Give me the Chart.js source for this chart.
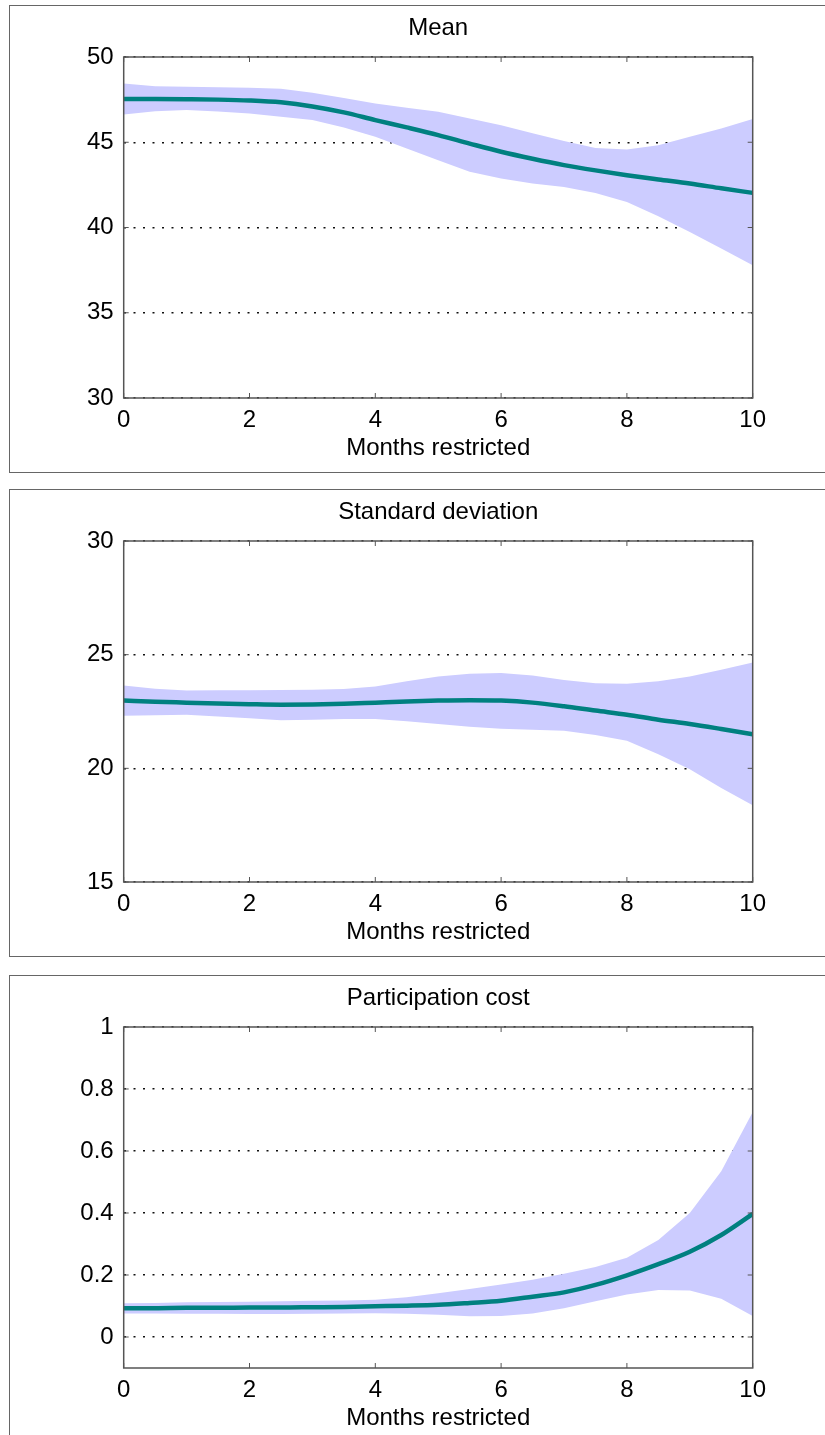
<!DOCTYPE html>
<html>
<head>
<meta charset="utf-8">
<script src="https://cdn.jsdelivr.net/npm/chart.js@4/dist/chart.umd.min.js"></script>
<style>
    body { margin: 0; background: #fff; width: 825px; height: 1435px; overflow: hidden; position: relative; }
    .panel { position: absolute; left: 0; width: 825px; height: 468px; }
    .box { position: absolute; left: 9px; top: 0; width: 840px; height: 466px; border: 1.5px solid #666; }
    .panel canvas { position: absolute; left: 0; top: 0; }
</style>
</head>
<body>
<div class="panel" style="top:5px"><div class="box"></div><canvas id="meanChart" width="825" height="468"></canvas></div>
<div class="panel" style="top:489px"><div class="box"></div><canvas id="sdChart" width="825" height="468"></canvas></div>
<div class="panel" style="top:975px"><div class="box"></div><canvas id="costChart" width="825" height="468"></canvas></div>

<script>
const months = [0, 0.5, 1, 1.5, 2, 2.5, 3, 3.5, 4, 4.5, 5, 5.5, 6, 6.5, 7, 7.5, 8, 8.5, 9, 9.5, 10];
const xTicks = [0, 2, 4, 6, 8, 10];

const meanLine  = [47.53, 47.53, 47.52, 47.5, 47.45, 47.34, 47.1, 46.75, 46.3, 45.87, 45.42, 44.92, 44.44, 44.03, 43.66, 43.35, 43.07, 42.82, 42.58, 42.3, 42.03];
const meanUpper = [48.45, 48.28, 48.25, 48.22, 48.2, 48.14, 47.9, 47.6, 47.28, 47.02, 46.79, 46.4, 46.0, 45.53, 45.07, 44.67, 44.58, 44.83, 45.32, 45.81, 46.36];
const meanLower = [46.63, 46.82, 46.89, 46.8, 46.68, 46.5, 46.3, 45.87, 45.32, 44.64, 43.95, 43.27, 42.88, 42.58, 42.38, 42.03, 41.5, 40.66, 39.74, 38.77, 37.78];
const meanTicks = [30, 35, 40, 45, 50];

const sdLine  = [22.98, 22.93, 22.89, 22.85, 22.82, 22.8, 22.81, 22.84, 22.89, 22.94, 22.98, 23.0, 22.98, 22.89, 22.73, 22.54, 22.36, 22.14, 21.95, 21.73, 21.5];
const sdUpper = [23.64, 23.5, 23.42, 23.43, 23.44, 23.45, 23.46, 23.49, 23.6, 23.83, 24.04, 24.16, 24.19, 24.08, 23.89, 23.74, 23.72, 23.83, 24.04, 24.34, 24.65];
const sdLower = [22.31, 22.34, 22.36, 22.28, 22.2, 22.12, 22.14, 22.17, 22.17, 22.07, 21.95, 21.83, 21.74, 21.7, 21.65, 21.47, 21.21, 20.62, 19.96, 19.14, 18.38];
const sdTicks = [15, 20, 25, 30];

const costLine  = [0.093, 0.093, 0.094, 0.094, 0.095, 0.095, 0.096, 0.097, 0.099, 0.101, 0.104, 0.11, 0.117, 0.13, 0.144, 0.168, 0.199, 0.235, 0.275, 0.329, 0.397];
const costUpper = [0.109, 0.11, 0.112, 0.113, 0.114, 0.115, 0.117, 0.118, 0.12, 0.128, 0.141, 0.155, 0.169, 0.185, 0.204, 0.226, 0.256, 0.313, 0.4, 0.535, 0.726];
const costLower = [0.076, 0.076, 0.075, 0.075, 0.074, 0.074, 0.075, 0.076, 0.077, 0.075, 0.072, 0.067, 0.068, 0.076, 0.093, 0.115, 0.137, 0.152, 0.15, 0.123, 0.068];
const costTicks = [0, 0.2, 0.4, 0.6, 0.8, 1];

const FONT = { family: 'Liberation Sans, Arial, sans-serif', size: 24 };

// frame round the plot plus small inward tick marks on all four sides
const framePlugin = {
    id: 'frame',
    afterDraw(chart) {
        const { ctx, chartArea: a, scales } = chart;
        ctx.save();
        ctx.setLineDash([]);
        ctx.strokeStyle = '#555';
        ctx.lineWidth = 1;
        ctx.beginPath();
        scales.y.ticks.forEach(t => {
            const y = scales.y.getPixelForValue(t.value);
            ctx.moveTo(a.left, y); ctx.lineTo(a.left + 5, y);
            ctx.moveTo(a.right, y); ctx.lineTo(a.right - 5, y);
        });
        scales.x.ticks.forEach(t => {
            const x = scales.x.getPixelForValue(t.value);
            ctx.moveTo(x, a.bottom); ctx.lineTo(x, a.bottom - 5);
            ctx.moveTo(x, a.top); ctx.lineTo(x, a.top + 5);
        });
        ctx.stroke();
        ctx.lineWidth = 1.5;
        ctx.strokeRect(a.left, a.top, a.right - a.left, a.bottom - a.top);
        ctx.restore();
    }
};

function toPoints(values) {
    return months.map((m, i) => ({ x: m, y: values[i] }));
}

function makeChart(id, title, line, upper, lower, yTicks) {
    return new Chart(document.getElementById(id), {
        type: 'line',
        data: {
            datasets: [
                {
                    data: toPoints(line),
                    borderColor: '#008080',
                    borderWidth: 4.5,
                    pointRadius: 0,
                    tension: 0.4,
                    cubicInterpolationMode: 'monotone',
                    fill: false
                },
                {
                    data: toPoints(upper),
                    borderWidth: 0,
                    borderColor: 'rgba(0,0,0,0)',
                    pointRadius: 0,
                    fill: false
                },
                {
                    data: toPoints(lower),
                    borderWidth: 0,
                    borderColor: 'rgba(0,0,0,0)',
                    backgroundColor: '#ccccff',
                    pointRadius: 0,
                    fill: '-1'
                }
            ]
        },
        options: {
            responsive: false,
            animation: false,
            layout: { padding: { left: 0, right: 72.3, top: 0, bottom: 0 } },
            plugins: {
                legend: { display: false },
                tooltip: { enabled: false },
                title: {
                    display: true,
                    fullSize: false,   // centre over the plot, not the canvas
                    text: title,
                    color: '#000',
                    font: { ...FONT, weight: 'normal' },
                    padding: { top: 9, bottom: 14.2 }
                }
            },
            scales: {
                x: {
                    type: 'linear',
                    min: 0,
                    max: 10,
                    afterBuildTicks: s => { s.ticks = xTicks.map(v => ({ value: v })); },
                    afterFit: s => { s.height = 75; },
                    grid: { display: false },
                    border: { display: false },
                    ticks: { padding: 0, color: '#000', font: FONT, maxRotation: 0 },
                    title: {
                        display: true,
                        text: 'Months restricted',
                        color: '#000',
                        font: FONT,
                        padding: { top: 0, bottom: 10 }
                    }
                },
                y: {
                    min: yTicks[0] === 0 ? -0.1 : yTicks[0],
                    max: yTicks[yTicks.length - 1],
                    afterBuildTicks: s => { s.ticks = yTicks.map(v => ({ value: v })); },
                    afterFit: s => { s.width = 123.7; },
                    grid: { color: '#111', lineWidth: 1.5, drawTicks: false, borderDash: [2, 7.5] },
                    border: { display: false, dash: [2, 7.5] },
                    ticks: { padding: 10, color: '#000', font: FONT, callback: v => String(v) }
                }
            }
        },
        plugins: [framePlugin]
    });
}

makeChart('meanChart', 'Mean', meanLine, meanUpper, meanLower, meanTicks);
makeChart('sdChart', 'Standard deviation', sdLine, sdUpper, sdLower, sdTicks);
makeChart('costChart', 'Participation cost', costLine, costUpper, costLower, costTicks);
</script>
</body>
</html>
